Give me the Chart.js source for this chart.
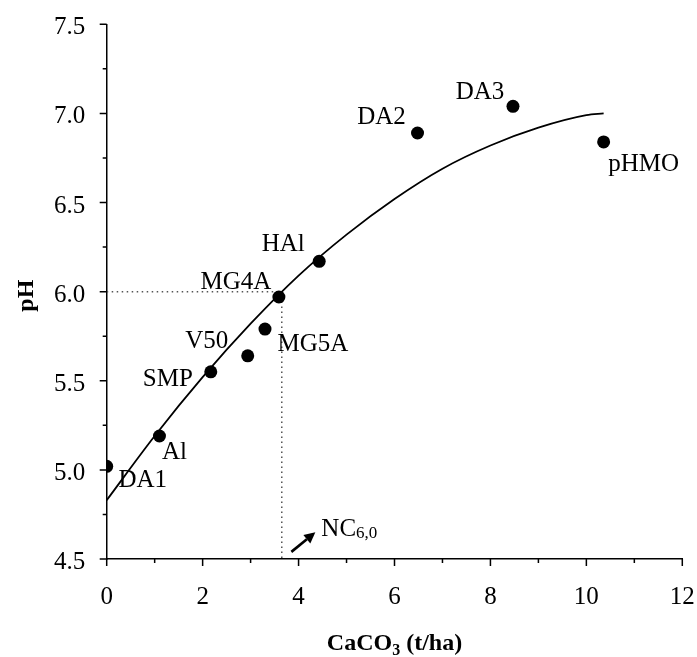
<!DOCTYPE html>
<html><head><meta charset="utf-8">
<script src="https://cdn.jsdelivr.net/npm/chart.js@4"></script>
<style>html,body{margin:0;padding:0;background:#fff}#wrap{width:697px;height:657px;position:relative}</style>
</head><body><div id="wrap"><canvas id="c" width="697" height="657"></canvas></div>
<script>
// ---- data ----
const sampleNames = ['DA1','Al','SMP','V50','MG5A','MG4A','HAl','DA2','DA3','pHMO'];
const limeRate = [0, 1.10, 2.17, 2.94, 3.30, 3.59, 4.43, 6.48, 8.47, 10.36];
const soilPH  = [5.02, 5.19, 5.55, 5.64, 5.79, 5.97, 6.17, 6.89, 7.04, 6.84];
const curveX = [0, 1, 2, 3, 4, 5, 6, 7, 8, 9, 10, 10.36];
const curveY = [4.83, 5.19, 5.52, 5.82, 6.09, 6.32, 6.52, 6.69, 6.82, 6.92, 6.99, 7.00];
const refX = [0, 3.65, 3.65];
const refY = [6.0, 6.0, 4.5];
const xTicksMajor = [0, 2, 4, 6, 8, 10, 12];
const xTicksMinor = [1, 3, 5, 7, 9, 11];
const yTicksMajor = [4.5, 5.0, 5.5, 6.0, 6.5, 7.0, 7.5];
const yTicksMinor = [4.75, 5.25, 5.75, 6.25, 6.75, 7.25];
const arrowFrom = [3.85, 4.54];
const arrowTo = [4.35, 4.65];
const ncText = ['NC', '6,0'];
const xTitle = ['CaCO', '3', ' (t/ha)'];
const yTitle = 'pH';

// ---- label placement (pixel offsets from each point: centre x, baseline y) ----
const labelOffsets = [[36,21],[15,23],[-43,14],[-41,-8],[48,22],[-43,-8],[-36,-10],[-36,-9],[-33,-7],[40,29]];

const SERIF = '"Liberation Serif","Times New Roman",serif';

const extras = {
  id: 'extras',
  afterDraw(chart) {
    const ctx = chart.ctx;
    const xs = chart.scales.x, ys = chart.scales.y;
    const ax = xs.getPixelForValue(0), ay = ys.getPixelForValue(4.5);
    ctx.save();
    ctx.strokeStyle = '#000';
    ctx.lineWidth = 1.5;
    // ticks
    ctx.beginPath();
    xTicksMajor.forEach(v => { const p = xs.getPixelForValue(v); ctx.moveTo(p, ay); ctx.lineTo(p, ay + 7); });
    xTicksMinor.forEach(v => { const p = xs.getPixelForValue(v); ctx.moveTo(p, ay); ctx.lineTo(p, ay + 4); });
    yTicksMajor.forEach(v => { const p = ys.getPixelForValue(v); ctx.moveTo(ax, p); ctx.lineTo(ax - 7, p); });
    yTicksMinor.forEach(v => { const p = ys.getPixelForValue(v); ctx.moveTo(ax, p); ctx.lineTo(ax - 4, p); });
    ctx.stroke();

    // tick labels
    ctx.fillStyle = '#000';
    ctx.font = '25px ' + SERIF;
    ctx.textBaseline = 'alphabetic';
    ctx.textAlign = 'center';
    xTicksMajor.forEach(v => ctx.fillText(String(v), xs.getPixelForValue(v), ay + 45));
    ctx.textAlign = 'right';
    yTicksMajor.forEach(v => ctx.fillText(v.toFixed(1), ax - 21.5, ys.getPixelForValue(v) + 10));

    // point labels
    ctx.textAlign = 'center';
    sampleNames.forEach((n, i) => {
      const px = xs.getPixelForValue(limeRate[i]);
      const py = ys.getPixelForValue(soilPH[i]);
      ctx.fillText(n, px + labelOffsets[i][0], py + labelOffsets[i][1]);
    });

    // arrow
    const x1 = xs.getPixelForValue(arrowFrom[0]), y1 = ys.getPixelForValue(arrowFrom[1]);
    const x2 = xs.getPixelForValue(arrowTo[0]), y2 = ys.getPixelForValue(arrowTo[1]);
    const ang = Math.atan2(y2 - y1, x2 - x1);
    const hl = 11, hw = 5.5;
    const bx = x2 - hl * Math.cos(ang), by = y2 - hl * Math.sin(ang);
    ctx.lineWidth = 2.6;
    ctx.beginPath(); ctx.moveTo(x1, y1); ctx.lineTo(bx, by); ctx.stroke();
    ctx.beginPath();
    ctx.moveTo(x2, y2);
    ctx.lineTo(bx + hw * Math.sin(ang), by - hw * Math.cos(ang));
    ctx.lineTo(bx - hw * Math.sin(ang), by + hw * Math.cos(ang));
    ctx.closePath(); ctx.fill();

    // NC label
    ctx.textAlign = 'left';
    ctx.font = '25px ' + SERIF;
    const ncx = x2 + 6, ncy = y2 + 4;
    ctx.fillText(ncText[0], ncx, ncy);
    const w1 = ctx.measureText(ncText[0]).width;
    ctx.font = '17px ' + SERIF;
    ctx.fillText(ncText[1], ncx + w1, ncy + 2);

    // x title
    ctx.font = 'bold 24px ' + SERIF;
    const wA = ctx.measureText(xTitle[0]).width;
    ctx.font = 'bold 16px ' + SERIF;
    const wB = ctx.measureText(xTitle[1]).width;
    ctx.font = 'bold 24px ' + SERIF;
    const wC = ctx.measureText(xTitle[2]).width;
    const cx = (chart.chartArea.left + chart.chartArea.right) / 2;
    let tx = cx - (wA + wB + wC) / 2;
    const tb = 650;
    ctx.fillText(xTitle[0], tx, tb);
    ctx.font = 'bold 16px ' + SERIF;
    ctx.fillText(xTitle[1], tx + wA, tb + 5);
    ctx.font = 'bold 24px ' + SERIF;
    ctx.fillText(xTitle[2], tx + wA + wB, tb);

    // y title
    ctx.save();
    ctx.translate(33, (chart.chartArea.top + chart.chartArea.bottom) / 2 + 4);
    ctx.rotate(-Math.PI / 2);
    ctx.textAlign = 'center';
    ctx.font = 'bold 24px ' + SERIF;
    ctx.fillText(yTitle, 0, 0);
    ctx.restore();
    ctx.restore();
  }
};

new Chart(document.getElementById('c'), {
  type: 'scatter',
  data: {
    datasets: [
      { data: refX.map((x, i) => ({ x, y: refY[i] })), showLine: true, borderColor: '#555', borderWidth: 1.5,
        borderDash: [1.5, 3.5], pointRadius: 0, fill: false, order: 3 },
      { data: curveX.map((x, i) => ({ x, y: curveY[i] })), showLine: true, borderColor: '#000', borderWidth: 1.8,
        pointRadius: 0, cubicInterpolationMode: 'monotone', fill: false, order: 2 },
      { data: limeRate.map((x, i) => ({ x, y: soilPH[i] })), showLine: false, pointRadius: 6.5,
        pointBackgroundColor: '#000', pointBorderColor: '#000', pointBorderWidth: 0, order: 1 }
    ]
  },
  options: {
    responsive: false, animation: false, devicePixelRatio: 1,
    layout: { padding: { left: 0, right: 14.7, top: 24.3, bottom: 0 } },
    plugins: { legend: { display: false }, tooltip: { enabled: false } },
    scales: {
      x: { type: 'linear', min: 0, max: 12,
        ticks: { display: false, stepSize: 2 },
        grid: { display: false, drawTicks: false },
        border: { display: true, color: '#000', width: 1.5 },
        afterFit(s) { s.height = 98; s.paddingLeft = 0; s.paddingRight = 0; } },
      y: { type: 'linear', min: 4.5, max: 7.5,
        ticks: { display: false, stepSize: 0.5 },
        grid: { display: false, drawTicks: false },
        border: { display: true, color: '#000', width: 1.5 },
        afterFit(s) { s.width = 106.7; s.paddingTop = 0; s.paddingBottom = 0; } }
    }
  },
  plugins: [extras]
});
</script></body></html>
